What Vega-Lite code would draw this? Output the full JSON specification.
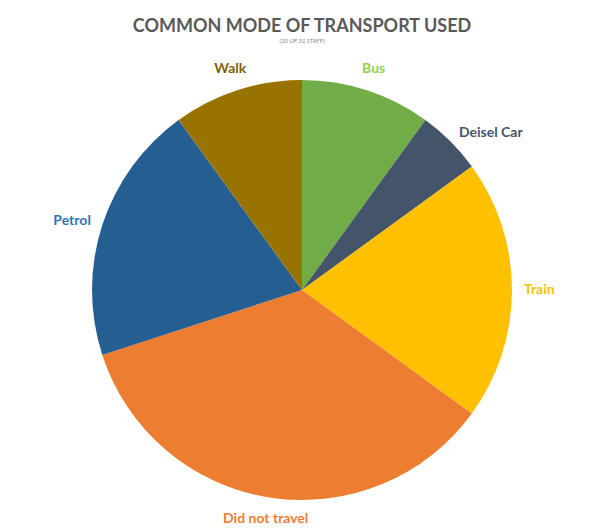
{
  "$schema": "https://vega.github.io/schema/vega-lite/v6.json",
  "width": 574,
  "height": 462,
  "autosize": "none",
  "padding": {"left": 15, "top": 59, "right": 0, "bottom": 10},
  "background": "white",
  "config": {"view": {"stroke": null}},
  "title": {
    "text": "COMMON MODE OF TRANSPORT USED",
    "subtitle": "(20 OF 31 STAFF)",
    "anchor": "middle",
    "font": "Lato",
    "fontSize": 18,
    "fontWeight": "bold",
    "color": "#595959",
    "subtitleFont": "Lato",
    "subtitleFontSize": 6,
    "subtitleFontStyle": "italic",
    "subtitleColor": "#7f7f7f",
    "subtitlePadding": 2,
    "offset": 15
  },
  "data": {
    "values": [
      {"mode": "Bus", "staff": 2, "rank": 1},
      {"mode": "Deisel Car", "staff": 1, "rank": 2},
      {"mode": "Train", "staff": 4, "rank": 3},
      {"mode": "Did not travel", "staff": 7, "rank": 4},
      {"mode": "Petrol", "staff": 4, "rank": 5},
      {"mode": "Walk", "staff": 2, "rank": 6}
    ]
  },
  "encoding": {
    "theta": {"field": "staff", "type": "quantitative", "stack": true},
    "order": {"field": "rank", "type": "quantitative"}
  },
  "layer": [
    {
      "mark": {"type": "arc", "outerRadius": 210},
      "encoding": {
        "color": {
          "field": "mode",
          "type": "nominal",
          "legend": null,
          "scale": {
            "domain": ["Bus", "Deisel Car", "Train", "Did not travel", "Petrol", "Walk"],
            "range": ["#70AD47", "#44546A", "#FFC000", "#ED7D31", "#255E91", "#997300"]
          }
        }
      }
    },
    {
      "mark": {
        "type": "text",
        "font": "Lato",
        "fontSize": 14,
        "fontWeight": "bold",
        "baseline": "middle",
        "align": {"expr": "datum.mode === 'Deisel Car' || datum.mode === 'Train' ? 'left' : (datum.mode === 'Petrol' ? 'right' : 'center')"},
        "radius": {"expr": "datum.mode === 'Deisel Car' || datum.mode === 'Train' || datum.mode === 'Petrol' ? 222 : 232"}
      },
      "encoding": {
        "text": {"field": "mode", "type": "nominal"},
        "color": {
          "field": "mode",
          "type": "nominal",
          "legend": null,
          "scale": {
            "domain": ["Bus", "Deisel Car", "Train", "Did not travel", "Petrol", "Walk"],
            "range": ["#92D050", "#44546A", "#FFC000", "#ED7D31", "#2E75B6", "#7F6000"]
          }
        }
      }
    }
  ],
  "resolve": {"scale": {"color": "independent"}}
}
